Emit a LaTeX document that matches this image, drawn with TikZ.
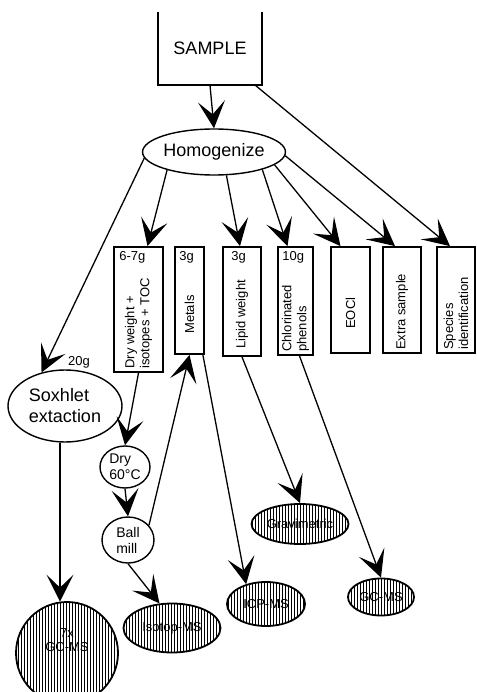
\documentclass[tikz,border=0pt]{standalone}
\usepackage{fontspec}
\setmainfont{Liberation Sans}
\usetikzlibrary{arrows.meta,shapes.geometric,patterns.meta}

\tikzset{
    box/.style={draw, line width=1.8pt, inner sep=0pt},
    oval/.style={draw, ellipse, line width=1.4pt, inner sep=0pt, align=left},
    hatched/.style={draw, ellipse, line width=1.8pt, inner sep=0pt,
        pattern={Lines[angle=90,distance=3pt,line width=0.7pt]},
        font=\fontsize{13}{14}\selectfont},
    gram/.style={inner sep=0pt, font=\fontsize{13}{14}\selectfont},
    vtext/.style={inner sep=0pt, rotate=90, anchor=west, align=left,
        font=\fontsize{13}{15}\selectfont},
    arr/.style={-{Stealth[length=27pt,width=27pt,inset=13pt]}, line width=1.3pt},
}

\begin{document}
\begin{tikzpicture}[x=1pt,y=-1pt]
        \useasboundingbox (0,0) rectangle (476,692);
        \node[minimum width=104pt, minimum height=73pt, inner sep=0pt, font=\fontsize{18}{20}\selectfont] (S) at (210,48.5) {SAMPLE};
        \draw[line width=1.5pt] (S.north west) -- (S.south west) -- (S.south east) -- (S.north east);
        \node[oval, minimum width=142pt, minimum height=46pt, font=\fontsize{18}{20}\selectfont] (H) at (214,152) {Homogenize};

        \node[box, minimum width=49pt, minimum height=125pt] (DW) at (138.5,309.5) {};
        \node[box, minimum width=29pt, minimum height=107pt] (M) at (189.5,300.5) {};
        \node[box, minimum width=38pt, minimum height=109pt] (L) at (242,301.5) {};
        \node[box, minimum width=35pt, minimum height=108pt] (C) at (295.5,301) {};
        \node[box, minimum width=39pt, minimum height=106pt] (E) at (350.5,300) {};
        \node[box, minimum width=38pt, minimum height=106pt] (X) at (402,300) {};
        \node[box, minimum width=38pt, minimum height=106pt] (I) at (456,300) {};

        \node[gram, anchor=north west] at ([shift={(6pt,-5pt)}]DW.north west) {6-7g};
        \node[vtext] at ([yshift=4pt]DW.south) {Dry weight +\\isotopes + TOC};
        \node[gram, anchor=north west] at ([shift={(5pt,-5pt)}]M.north west) {3g};
        \node[vtext] at ([yshift=21pt]M.south) {Metals};
        \node[gram, anchor=north west] at ([shift={(9pt,-5pt)}]L.north west) {3g};
        \node[vtext] at ([yshift=8pt]L.south) {Lipid weight};
        \node[gram, anchor=north west] at ([shift={(5pt,-5pt)}]C.north west) {10g};
        \node[vtext] at ([yshift=4pt]C.south) {Chlorinated\\phenols};
        \node[vtext] at ([yshift=25pt]E.south) {EOCl};
        \node[vtext] at ([yshift=4pt]X.south) {Extra sample};
        \node[vtext] at ([yshift=4pt]I.south) {Species\\identification};

        \node[oval, minimum width=114pt, minimum height=72pt, font=\fontsize{18}{21}\selectfont] (SX) at (65,406) {Soxhlet\\extaction};
        \node[gram, anchor=south] at ([shift={(14pt,1pt)}]SX.north) {20g};
        \node[oval, minimum width=50pt, minimum height=42pt, font=\fontsize{14}{16}\selectfont] (D) at (125,467) {Dry\\60°C};
        \node[oval, minimum width=52pt, minimum height=46pt, font=\fontsize{14}{16}\selectfont] (B) at (128,540) {Ball\\mill};

        \node[hatched, circle, minimum size=102pt] (G7) at (67,653) {};
        \node[gram, align=center] at ([yshift=13pt]G7.center) {7x\\GC-MS};
        \node[hatched, minimum width=97pt, minimum height=49pt] (IM) at (172,628) {Isotop-MS};
        \node[hatched, minimum width=78pt, minimum height=44pt] (ICP) at (266,604) {ICP-MS};
        \node[hatched, minimum width=97pt, minimum height=40pt] (GR) at (300,524) {Gravimetric};
        \node[hatched, minimum width=66pt, minimum height=37pt] (GC) at (381,597) {GC-MS};

        \draw[arr] (S.south) to (H.north);
        \draw[arr] ([xshift=-7pt]S.south east) to ([xshift=-6pt]I.north);
        \draw[arr] (H.185) to (SX.125);
        \draw[arr] (H.201) to ([xshift=9pt]DW.north);
        \draw[arr] (H.298) to ([xshift=-2pt]L.north);
        \draw[arr] (H.340) to ([xshift=-8pt]C.north);
        \draw[arr] (H.348) to ([xshift=-10pt]E.north);
        \draw[arr] (H.357) to ([xshift=-7pt]X.north);
        \draw[arr] (DW.south) to (D.north);
        \draw[arr] (D.south) to (B.north);
        \draw[arr] (B.35) to (M.south);
        \draw[arr] ([xshift=-2pt]M.south east) to (ICP.135);
        \draw[arr] (L.south) to (GR.north);
        \draw[arr] ([xshift=4pt]C.south) to (GC.north);
        \draw[arr] (B.south) to (IM.117);
        \draw[arr] ([xshift=-5pt]SX.south) to ([xshift=-7pt]G7.north);
\end{tikzpicture}
\end{document}
